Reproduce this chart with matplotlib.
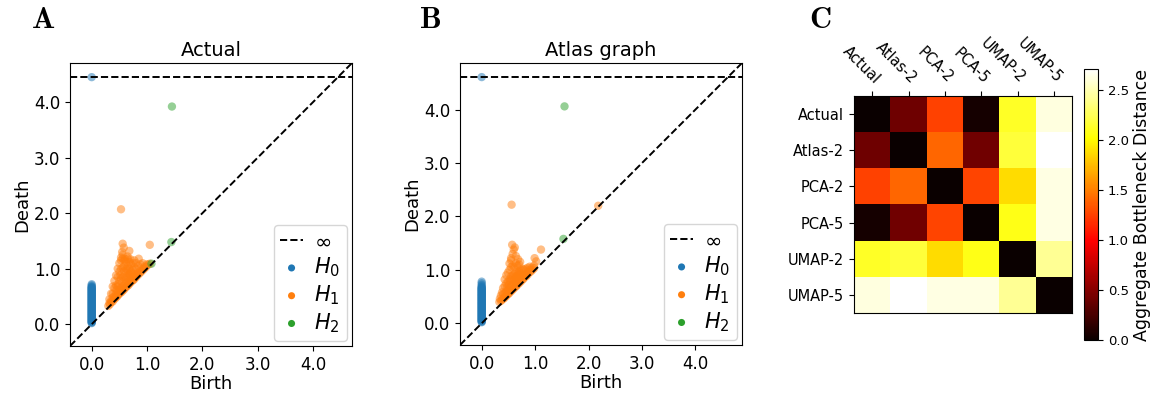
import numpy as np
import matplotlib
matplotlib.use('Agg')
import matplotlib.pyplot as plt

# --- Panel A: "Actual" persistence diagram ---
a_h0_death = [0.02, 0.03, 0.04, 0.05, 0.06, 0.07, 0.08, 0.09, 0.10, 0.11,
              0.12, 0.13, 0.14, 0.15, 0.16, 0.17, 0.18, 0.19, 0.20, 0.21,
              0.22, 0.23, 0.24, 0.25, 0.26, 0.27, 0.28, 0.29, 0.30, 0.31,
              0.32, 0.33, 0.34, 0.35, 0.36, 0.37, 0.38, 0.39, 0.40, 0.41,
              0.42, 0.43, 0.44, 0.45, 0.46, 0.47, 0.48, 0.49, 0.50, 0.51,
              0.52, 0.53, 0.54, 0.55, 0.56, 0.57, 0.58, 0.59, 0.60, 0.61,
              0.62, 0.63, 0.64, 0.65, 0.66, 0.67, 0.68, 0.70, 0.72, np.inf]
a_h1 = [(0.30, 0.33), (0.33, 0.36), (0.36, 0.40), (0.38, 0.41), (0.40, 0.45),
        (0.42, 0.46), (0.44, 0.49), (0.46, 0.50), (0.48, 0.53), (0.50, 0.55),
        (0.52, 0.57), (0.54, 0.58), (0.56, 0.61), (0.58, 0.62), (0.60, 0.65),
        (0.62, 0.67), (0.64, 0.69), (0.66, 0.70), (0.68, 0.73), (0.70, 0.75),
        (0.72, 0.77), (0.74, 0.79), (0.76, 0.80), (0.78, 0.83), (0.80, 0.85),
        (0.83, 0.88), (0.86, 0.91), (0.89, 0.94), (0.92, 0.97), (0.95, 1.00),
        (0.98, 1.03), (1.02, 1.07), (1.05, 1.09),
        (0.32, 0.38), (0.32, 0.45), (0.35, 0.42), (0.35, 0.55), (0.38, 0.48),
        (0.38, 0.55), (0.38, 0.68), (0.41, 0.50), (0.41, 0.65), (0.41, 0.78),
        (0.44, 0.55), (0.44, 0.70), (0.44, 0.88), (0.47, 0.58), (0.47, 0.68),
        (0.47, 0.85), (0.47, 1.00), (0.50, 0.62), (0.50, 0.78), (0.50, 0.95),
        (0.50, 1.10), (0.53, 0.65), (0.53, 0.82), (0.53, 1.00), (0.53, 1.15),
        (0.56, 0.68), (0.56, 0.85), (0.56, 1.02), (0.56, 1.18), (0.59, 0.70),
        (0.59, 0.88), (0.59, 1.05), (0.59, 1.15), (0.62, 0.74), (0.62, 0.85),
        (0.62, 1.00), (0.62, 1.12), (0.65, 0.76), (0.65, 0.92), (0.65, 1.05),
        (0.65, 1.18), (0.68, 0.78), (0.68, 0.90), (0.68, 1.00), (0.68, 1.12),
        (0.71, 0.80), (0.71, 0.95), (0.71, 1.08), (0.74, 0.85), (0.74, 0.98),
        (0.74, 1.10), (0.77, 0.86), (0.77, 1.02), (0.77, 1.15), (0.80, 0.90),
        (0.80, 1.00), (0.80, 1.10), (0.84, 0.93), (0.84, 1.05), (0.88, 0.96),
        (0.88, 1.08), (0.92, 1.00), (0.92, 1.10), (0.96, 1.04), (1.00, 1.08),
        (0.45, 0.62), (0.48, 0.72), (0.52, 0.88), (0.55, 0.75), (0.58, 0.95),
        (0.61, 0.80), (0.64, 0.98), (0.67, 0.85), (0.70, 0.90), (0.73, 0.92),
        (0.53, 1.20), (0.56, 1.25), (0.60, 1.18), (0.65, 1.22), (0.70, 1.17),
        (0.55, 1.30), (0.68, 1.32), (0.58, 1.38), (0.56, 1.45), (0.53, 2.07),
        (1.05, 1.43), (0.85, 1.18)]
a_h2 = [(1.45, 3.92), (1.44, 1.48), (1.08, 1.09)]

# --- Panel B: "Atlas graph" persistence diagram ---
b_h0_death = [0.02, 0.03, 0.04, 0.05, 0.06, 0.07, 0.08, 0.09, 0.10, 0.11,
              0.12, 0.13, 0.14, 0.15, 0.16, 0.17, 0.18, 0.19, 0.20, 0.21,
              0.22, 0.23, 0.24, 0.25, 0.26, 0.27, 0.28, 0.29, 0.30, 0.31,
              0.32, 0.33, 0.34, 0.35, 0.36, 0.37, 0.38, 0.39, 0.40, 0.41,
              0.42, 0.43, 0.44, 0.45, 0.46, 0.47, 0.48, 0.49, 0.50, 0.51,
              0.52, 0.53, 0.54, 0.55, 0.56, 0.57, 0.58, 0.59, 0.60, 0.61,
              0.62, 0.63, 0.64, 0.65, 0.66, 0.67, 0.68, 0.70, 0.72, 0.75,
              0.78, np.inf]
b_h1 = [(0.33, 0.40), (0.36, 0.42), (0.38, 0.44), (0.40, 0.46), (0.42, 0.47),
        (0.44, 0.50), (0.46, 0.51), (0.48, 0.54), (0.50, 0.55), (0.52, 0.57),
        (0.54, 0.60), (0.56, 0.61), (0.58, 0.64), (0.60, 0.65), (0.62, 0.68),
        (0.64, 0.69), (0.66, 0.71), (0.68, 0.74), (0.70, 0.75), (0.72, 0.78),
        (0.74, 0.79), (0.76, 0.82), (0.78, 0.83), (0.80, 0.86), (0.83, 0.88),
        (0.86, 0.91), (0.89, 0.95), (0.92, 0.97), (0.95, 1.00), (0.98, 1.03),
        (2.18, 2.20),
        (0.34, 0.46), (0.36, 0.52), (0.38, 0.58), (0.40, 0.55), (0.40, 0.66),
        (0.43, 0.56), (0.43, 0.70), (0.43, 0.82), (0.46, 0.60), (0.46, 0.75),
        (0.46, 0.90), (0.49, 0.62), (0.49, 0.78), (0.49, 0.95), (0.52, 0.66),
        (0.52, 0.82), (0.52, 1.00), (0.52, 1.12), (0.55, 0.70), (0.55, 0.88),
        (0.55, 1.05), (0.55, 1.18), (0.58, 0.72), (0.58, 0.90), (0.58, 1.08),
        (0.61, 0.75), (0.61, 0.92), (0.61, 1.05), (0.64, 0.78), (0.64, 0.95),
        (0.64, 1.12), (0.67, 0.80), (0.67, 0.96), (0.67, 1.08), (0.70, 0.84),
        (0.70, 0.98), (0.70, 1.10), (0.73, 0.86), (0.73, 1.00), (0.76, 0.88),
        (0.76, 1.02), (0.79, 0.90), (0.79, 1.00), (0.82, 0.92), (0.82, 1.02),
        (0.86, 0.96), (0.86, 1.04), (0.90, 1.00), (0.90, 1.06), (0.94, 1.04),
        (0.98, 1.08), (0.48, 0.68), (0.51, 0.72), (0.54, 0.80), (0.57, 0.84),
        (0.60, 0.82), (0.63, 0.88), (0.66, 0.86), (0.69, 0.92), (0.72, 0.94),
        (0.55, 1.22), (0.58, 1.30), (0.60, 1.38), (0.57, 1.47), (0.62, 1.42),
        (0.64, 1.26), (0.68, 1.20), (0.72, 1.15), (0.99, 1.22), (1.02, 1.16),
        (1.11, 1.38), (0.56, 2.22)]
b_h2 = [(1.55, 4.06), (1.53, 1.58)]

# --- Panel C: aggregate bottleneck distances ---
methods = ['Actual', 'Atlas-2', 'PCA-2', 'PCA-5', 'UMAP-2', 'UMAP-5']
row_actual = [0.00, 0.41, 1.25, 0.05, 2.12, 2.62]
row_atlas2 = [0.41, 0.00, 1.40, 0.42, 2.18, 2.71]
row_pca2   = [1.25, 1.40, 0.00, 1.27, 1.88, 2.63]
row_pca5   = [0.05, 0.42, 1.27, 0.00, 2.08, 2.63]
row_umap2  = [2.12, 2.18, 1.88, 2.08, 0.00, 2.42]
row_umap5  = [2.62, 2.71, 2.63, 2.63, 2.42, 0.00]

# --- Style ---
FIG_W, FIG_H = 1151, 394
DPI          = 100
TICK_FS      = 12
LABEL_FS     = 13
TITLE_FS     = 14
LEGEND_FS    = 15
HEAT_FS      = 10.5
POINT_SIZE   = 36

plt.rcParams['mathtext.fontset'] = 'dejavusans'


def px_rect(left, top, right, bottom):
    return [left / FIG_W, 1 - bottom / FIG_H,
            (right - left) / FIG_W, (bottom - top) / FIG_H]


def plot_diagram(ax, h0_death, h1, h2, title):
    h0 = np.column_stack([np.zeros(len(h0_death)), h0_death])
    dgms = [h0, np.array(h1, dtype=float), np.array(h2, dtype=float)]

    # limits as persim computes them
    finite = np.concatenate([d[np.isfinite(d)] for d in dgms])
    ax_min, ax_max = finite.min(), finite.max()
    buffer = (ax_max - ax_min) / 5
    x_down = ax_min - buffer / 2
    x_up = ax_max + buffer
    b_inf = x_down + (x_up - x_down) * 0.95

    ax.plot([x_down, x_up], [x_down, x_up], '--', c='k', lw=1.4, zorder=3)
    ax.plot([x_down, x_up], [b_inf, b_inf], '--', c='k', lw=1.4,
            label=r'$\infty$', zorder=3)

    for dgm, lab in zip(dgms, [r'$H_0$', r'$H_1$', r'$H_2$']):
        dgm = dgm.copy()
        dgm[np.isinf(dgm)] = b_inf
        ax.scatter(dgm[:, 0], dgm[:, 1], POINT_SIZE, label=lab,
                   edgecolor='none', alpha=0.5, zorder=2)

    ax.set_xlim(x_down, x_up)
    ax.set_ylim(x_down, x_up)
    ticks = [0, 1, 2, 3, 4]
    ax.set_xticks(ticks)
    ax.set_yticks(ticks)
    ax.set_xticklabels([f'{t:.1f}' for t in ticks])
    ax.set_yticklabels([f'{t:.1f}' for t in ticks])
    ax.tick_params(labelsize=TICK_FS)
    ax.set_xlabel('Birth', fontsize=LABEL_FS, labelpad=1)
    ax.set_ylabel('Death', fontsize=LABEL_FS, labelpad=2)
    ax.set_title(title, fontsize=TITLE_FS, pad=5)

    leg = ax.legend(loc='lower right', fontsize=LEGEND_FS, borderaxespad=0.25,
                    handlelength=1.1, handletextpad=0.55, labelspacing=0.2,
                    borderpad=0.3)
    for h in leg.legend_handles[1:]:
        h.set_alpha(1)
        h.set_sizes([26])


fig = plt.figure(figsize=(FIG_W / DPI, FIG_H / DPI), dpi=DPI)

ax_a = fig.add_axes(px_rect(70, 63, 352, 346))
plot_diagram(ax_a, a_h0_death, a_h1, a_h2, 'Actual')

ax_b = fig.add_axes(px_rect(460, 63, 742, 345))
plot_diagram(ax_b, b_h0_death, b_h1, b_h2, 'Atlas graph')

# --- Panel C heatmap ---
dist = np.array([row_actual, row_atlas2, row_pca2, row_pca5, row_umap2, row_umap5])
ax_c = fig.add_axes(px_rect(854, 96, 1072, 313))
im = ax_c.imshow(dist, cmap='hot', vmin=0, vmax=dist.max(), aspect='auto')
ax_c.set_xticks(range(len(methods)))
ax_c.set_yticks(range(len(methods)))
ax_c.set_xticklabels(methods, fontsize=HEAT_FS)
ax_c.set_yticklabels(methods, fontsize=HEAT_FS)
ax_c.xaxis.tick_top()
plt.setp(ax_c.get_xticklabels(), rotation=-45, ha='right', va='bottom',
         rotation_mode='anchor')

cax = fig.add_axes(px_rect(1084, 69, 1098, 340))
cb = fig.colorbar(im, cax=cax)
cb.set_ticks([0.0, 0.5, 1.0, 1.5, 2.0, 2.5])
cb.ax.tick_params(labelsize=9.5)
cb.set_label('Aggregate Bottleneck Distance', fontsize=12.5, labelpad=3)

# --- Panel letters ---
for x, letter in [(31, 'A'), (419, 'B'), (809, 'C')]:
    fig.text(x / FIG_W, 1 - 19 / FIG_H, r'$\mathbf{%s}$' % letter,
             fontsize=22, va='center', ha='left', math_fontfamily='cm')

fig.savefig('out.png', dpi=DPI)
